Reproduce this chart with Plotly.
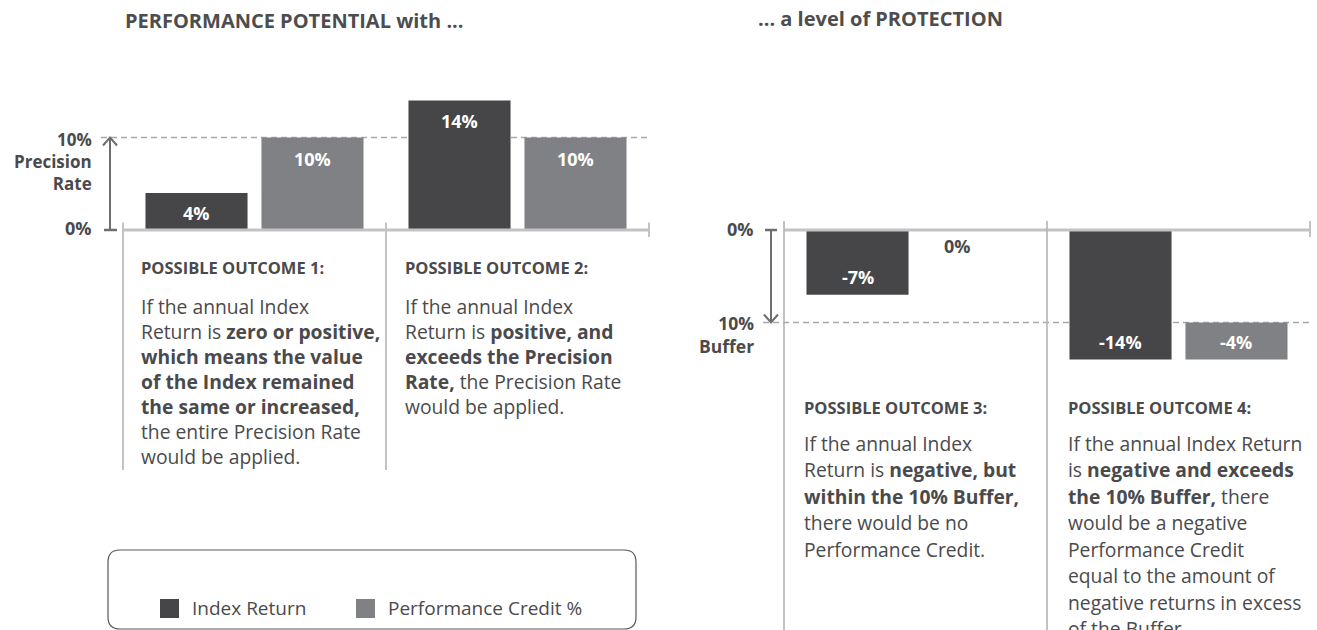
import plotly.graph_objects as go

W, H = 1317, 630

# ---------------- data ----------------
outcomes_left = ["Outcome 1", "Outcome 2"]
outcomes_right = ["Outcome 3", "Outcome 4"]
index_return_left = [4, 14]
credit_left = [10, 10]
index_return_right = [-7, -14]
credit_right = [0, -4]
credit_right_base = [0, -10]
precision_rate = 10
buffer_level = -10
series_names = ["Index Return", "Performance Credit %"]
titles = ["PERFORMANCE POTENTIAL with ...", "... a level of PROTECTION"]
precision_label = ["10%", "Precision", "Rate"]
buffer_label = ["10%", "Buffer"]
zero_label = "0%"
headers = ["POSSIBLE OUTCOME 1:", "POSSIBLE OUTCOME 2:",
           "POSSIBLE OUTCOME 3:", "POSSIBLE OUTCOME 4:"]
bodies = [
    ["If the annual Index",
     "Return is <b>zero or positive,</b>",
     "<b>which means the value</b>",
     "<b>of the Index remained</b>",
     "<b>the same or increased,</b>",
     "the entire Precision Rate",
     "would be applied."],
    ["If the annual Index",
     "Return is <b>positive, and</b>",
     "<b>exceeds the Precision</b>",
     "<b>Rate,</b> the Precision Rate",
     "would be applied."],
    ["If the annual Index",
     "Return is <b>negative, but</b>",
     "<b>within the 10% Buffer,</b>",
     "there would be no",
     "Performance Credit."],
    ["If the annual Index Return",
     "is <b>negative and exceeds</b>",
     "<b>the 10% Buffer,</b> there",
     "would be a negative",
     "Performance Credit",
     "equal to the amount of",
     "negative returns in excess",
     "of the Buffer."],
]

# ---------------- style ----------------
DARK = "#464648"
GRAY = "#808184"
TEXT = "#4a4a4c"
LINE = "#c3c3c6"
ARROW = "#6d6e71"
DASH = "#a7a9ac"
FONT = "Open Sans"

PX_PER_PCT = 9.25
ZERO_PX = 230
CAT_PX = 263
LEFT0_PX, RIGHT0_PX = 123, 784
BARGAP, BARGROUPGAP = 0.118, 0.12
y_range = [-(H - ZERO_PX) / PX_PER_PCT, ZERO_PX / PX_PER_PCT]
xl_range = [-0.5 - LEFT0_PX / CAT_PX, -0.5 + (W / 2 - LEFT0_PX) / CAT_PX]
xr_range = [-0.5 - (RIGHT0_PX - W / 2) / CAT_PX, -0.5 + (W - RIGHT0_PX) / CAT_PX]


def cat_l(px):
    return -0.5 + (px - LEFT0_PX) / CAT_PX


def cat_r(px):
    return -0.5 + (px - RIGHT0_PX) / CAT_PX


def pct(px_len):
    return px_len / PX_PER_PCT


def px(x):
    return x / W


def py(y):
    return 1 - y / H


fig = go.Figure()
fig.add_bar(x=outcomes_left, y=index_return_left, name=series_names[0],
            marker=dict(color=DARK, line=dict(width=0)), xaxis="x", yaxis="y")
fig.add_bar(x=outcomes_left, y=credit_left, name=series_names[1],
            marker=dict(color=GRAY, line=dict(width=0)), xaxis="x", yaxis="y")
fig.add_bar(x=outcomes_right, y=index_return_right, name=series_names[0],
            marker=dict(color=DARK, line=dict(width=0)), xaxis="x2", yaxis="y2")
fig.add_bar(x=outcomes_right, y=credit_right, base=credit_right_base, name=series_names[1],
            marker=dict(color=GRAY, line=dict(width=0)), xaxis="x2", yaxis="y2")

shapes = []
ann = []
off = (1 - BARGAP) / 4


def line(xref, yref, x0, y0, x1, y1, color, width, dash=None, layer="above"):
    d = dict(type="line", xref=xref, yref=yref, x0=x0, y0=y0, x1=x1, y1=y1,
             line=dict(color=color, width=width), layer=layer)
    if dash:
        d["line"]["dash"] = dash
    shapes.append(d)


# ---- left chart decorations ----
top_div_l = pct(ZERO_PX - 222.5)
bot_div_l = -pct(470 - ZERO_PX)
line("x", "y", -0.5, 0, 1.5, 0, LINE, 3)
line("x", "y", -0.5, top_div_l, -0.5, bot_div_l, LINE, 2)
line("x", "y", 0.5, top_div_l, 0.5, bot_div_l, LINE, 2)
line("x", "y", 1.5, top_div_l, 1.5, -pct(237 - ZERO_PX), LINE, 2)
line("x", "y", cat_l(101), precision_rate, 1.5, precision_rate, DASH, 1.3, "6px,4px", "below")
ax = cat_l(110)
line("x", "y", ax, 0, ax, precision_rate, ARROW, 2)
line("x", "y", cat_l(104), 0, cat_l(117), 0, ARROW, 2.5)
dx, dy = 7 / CAT_PX, pct(8)
shapes.append(dict(type="path", xref="x", yref="y",
                   path=f"M {ax-dx},{precision_rate-dy} L {ax},{precision_rate} L {ax+dx},{precision_rate-dy}",
                   line=dict(color=ARROW, width=2)))

# ---- right chart decorations ----
top_div_r = pct(ZERO_PX - 221)
line("x2", "y2", -0.5, 0, 1.5, 0, LINE, 3)
line("x2", "y2", -0.5, top_div_r, -0.5, y_range[0], "#b4b4b7", 1.6)
line("x2", "y2", 0.5, top_div_r, 0.5, y_range[0], "#b4b4b7", 1.6)
line("x2", "y2", 1.5, top_div_r, 1.5, -pct(237 - ZERO_PX), LINE, 2)
line("x2", "y2", cat_r(763), buffer_level, 1.5, buffer_level, DASH, 1.3, "6px,4px", "below")
axr = cat_r(771)
line("x2", "y2", axr, 0, axr, buffer_level, ARROW, 2)
line("x2", "y2", cat_r(765), 0, cat_r(777), 0, ARROW, 2.5)
shapes.append(dict(type="path", xref="x2", yref="y2",
                   path=f"M {axr-dx},{buffer_level+dy} L {axr},{buffer_level} L {axr+dx},{buffer_level+dy}",
                   line=dict(color=ARROW, width=2)))

# ---- bar value labels ----
lbl_font = dict(family=FONT, size=18, color="white", weight="bold")
for i, v in enumerate(index_return_left):
    ann.append(dict(xref="x", yref="y", x=i - off, y=v, yshift=-20, text=f"{v}%",
                    showarrow=False, font=lbl_font))
for i, v in enumerate(credit_left):
    ann.append(dict(xref="x", yref="y", x=i + off, y=v, yshift=-21, text=f"{v}%",
                    showarrow=False, font=lbl_font))
for i, v in enumerate(index_return_right):
    ann.append(dict(xref="x2", yref="y2", x=i - off, y=v, yshift=18, text=f"{v}%",
                    showarrow=False, font=lbl_font))
for i, (v, b) in enumerate(zip(credit_right, credit_right_base)):
    if v == 0:
        ann.append(dict(xref="x2", yref="y2", x=i + off, y=b, yshift=-16, xshift=-16,
                        text=f"{v}%", showarrow=False,
                        font=dict(family=FONT, size=18, color=TEXT, weight="bold")))
    else:
        ann.append(dict(xref="x2", yref="y2", x=i + off, y=b + v, yshift=18, text=f"{v}%",
                        showarrow=False, font=lbl_font))

# ---- axis labels ----
axf = dict(family=FONT, size=18, color=TEXT, weight="bold")
axf_multi = dict(family=FONT, size=17, color=TEXT, weight="bold")
ann.append(dict(xref="x", yref="y", x=cat_l(94), y=precision_rate, yshift=-24,
                text="<br>".join(precision_label), xanchor="right", yanchor="middle",
                align="right", showarrow=False, font=axf_multi))
ann.append(dict(xref="x", yref="y", x=cat_l(94), y=0, yshift=2, text=zero_label,
                xanchor="right", showarrow=False, font=axf))
ann.append(dict(xref="x2", yref="y2", x=cat_r(756), y=0, yshift=1, text=zero_label,
                xanchor="right", showarrow=False, font=axf))
ann.append(dict(xref="x2", yref="y2", x=cat_r(756), y=buffer_level, yshift=-11.5,
                text="<br>".join(buffer_label), xanchor="right", yanchor="middle",
                align="right", showarrow=False, font=dict(axf_multi, size=17.5)))

# ---- titles ----
tf = dict(family=FONT, size=20, color="#4d4d4f", weight="bold")
ann.append(dict(xref="paper", yref="paper", x=px(123), y=py(21), text=titles[0],
                xanchor="left", yanchor="middle", showarrow=False, font=tf))
ann.append(dict(xref="paper", yref="paper", x=px(756), y=py(18), text=titles[1],
                xanchor="left", yanchor="middle", showarrow=False, font=tf))

# ---- outcome text blocks ----
block_pos = [(139, 267, 306, 25), (403, 267, 306, 25),
             (802, 407, 443, 26.5), (1066, 407, 443, 26.5)]
hf = dict(family=FONT, size=16.5, color=TEXT, weight="bold")
bf = dict(family=FONT, size=19.3, color=TEXT)
for (bx, hy, by, sp), head, body in zip(block_pos, headers, bodies):
    ann.append(dict(xref="paper", yref="paper", x=px(bx), y=py(hy), text=head,
                    xanchor="left", yanchor="middle", showarrow=False, font=hf))
    for k, ln in enumerate(body):
        ann.append(dict(xref="paper", yref="paper", x=px(bx), y=py(by + k * sp), text=ln,
                        xanchor="left", yanchor="middle", showarrow=False, font=bf))

# ---- custom legend ----
x0, x1, y0, y1, r = 108, 636, 550, 629, 12
path = (f"M {px(x0+r)},{py(y0)} L {px(x1-r)},{py(y0)} Q {px(x1)},{py(y0)} {px(x1)},{py(y0+r)} "
        f"L {px(x1)},{py(y1-r)} Q {px(x1)},{py(y1)} {px(x1-r)},{py(y1)} "
        f"L {px(x0+r)},{py(y1)} Q {px(x0)},{py(y1)} {px(x0)},{py(y1-r)} "
        f"L {px(x0)},{py(y0+r)} Q {px(x0)},{py(y0)} {px(x0+r)},{py(y0)} Z")
shapes.append(dict(type="path", xref="paper", yref="paper", path=path,
                   line=dict(color="#58595b", width=1.2)))
lf = dict(family=FONT, size=19, color=TEXT)
for (sx, tx), name, col in zip([(160, 190), (356, 386)], series_names, [DARK, GRAY]):
    shapes.append(dict(type="rect", xref="paper", yref="paper", x0=px(sx), x1=px(sx + 19),
                       y0=py(599), y1=py(618), fillcolor=col, line=dict(width=0)))
    ann.append(dict(xref="paper", yref="paper", x=px(tx), y=py(608), text=name,
                    xanchor="left", yanchor="middle", showarrow=False, font=lf))

axis_common = dict(showgrid=False, zeroline=False, showticklabels=False, ticks="",
                   showline=False, fixedrange=True)
fig.update_layout(
    width=W, height=H, autosize=False,
    margin=dict(l=0, r=0, t=0, b=0),
    paper_bgcolor="white", plot_bgcolor="rgba(0,0,0,0)",
    barmode="group", bargap=BARGAP, bargroupgap=BARGROUPGAP,
    showlegend=False, hovermode=False,
    font=dict(family=FONT, color=TEXT),
    xaxis=dict(domain=[0, 0.5], range=xl_range, type="category", **axis_common),
    xaxis2=dict(domain=[0.5, 1], range=xr_range, type="category", anchor="y2", **axis_common),
    yaxis=dict(domain=[0, 1], range=y_range, **axis_common),
    yaxis2=dict(domain=[0, 1], range=y_range, anchor="x2", **axis_common),
    shapes=shapes, annotations=ann,
)

fig.write_html("out.html", config={"displayModeBar": False},
               post_script="document.body.style.margin='0px';document.body.style.overflow='hidden';")
